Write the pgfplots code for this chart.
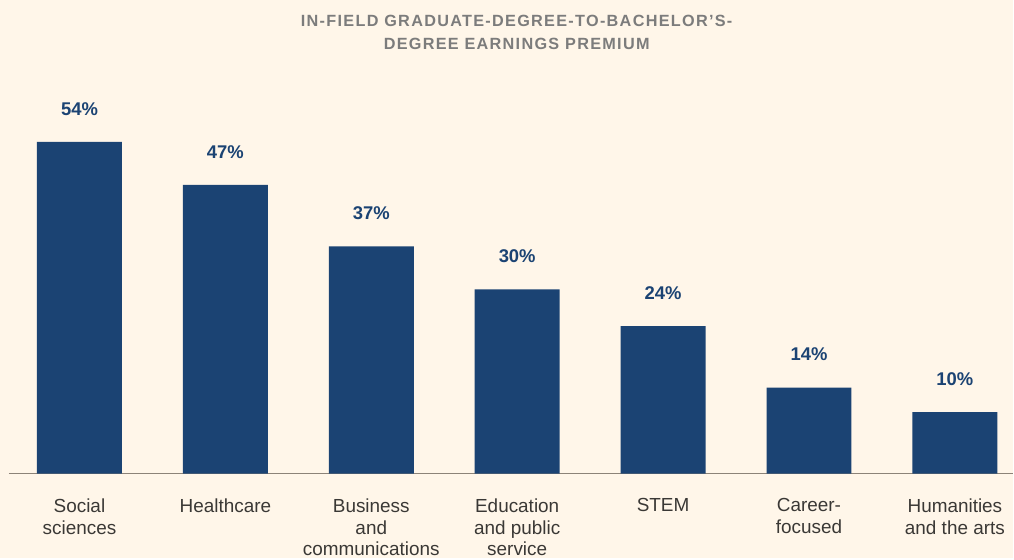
\documentclass[border=0pt]{standalone}
\usepackage{fontspec}
\setmainfont{Liberation Sans}
\newfontfamily\titlefont[LetterSpace=8]{Liberation Sans}
\usepackage{pgfplots}
\pgfplotsset{compat=1.18}
\definecolor{bg}{HTML}{FFF6E9}
\definecolor{barblue}{HTML}{1B4373}
\definecolor{labgray}{HTML}{3A3835}
\definecolor{titlegray}{HTML}{7C7C7C}
\definecolor{basegray}{HTML}{8C8378}
\begin{document}
\begin{tikzpicture}[x=1bp,y=1bp]
\fill[bg] (0,0) rectangle (1014,558);
\node[font=\titlefont\bfseries\fontsize{16.3}{23}\selectfont, text=titlegray, align=center, anchor=center] at (517,526) {IN-FIELD GRADUATE-DEGREE-TO-BACHELOR’S-\\DEGREE EARNINGS PREMIUM};
\begin{axis}[
  at={(9bp,84bp)}, anchor=south west,
  scale only axis, width=1005bp, height=400bp,
  xmin=-0.483, xmax=6.401, ymin=0, ymax=65.04,
  ybar, bar width=85bp,
  axis x line*=bottom, axis y line=none,
  x axis line style={basegray, line width=1.2pt, -},
  xtick=data, xtick style={draw=none},
  xticklabels={{Social\\sciences},{Healthcare},{Business\\and\\communications},{Education\\and public\\service},{STEM},{Career-\\focused},{Humanities\\and the arts}},
  xticklabel style={align=center, text=labgray, font=\fontsize{19}{22}\selectfont, anchor=north, yshift=-17bp},
  /pgf/number format/assume math mode=true,
  nodes near coords={\pgfmathprintnumber{\pgfplotspointmeta}\%},
  nodes near coords style={font=\bfseries\fontsize{18.5}{22}\selectfont, text=barblue, yshift=23bp},
  clip=false,
]
\addplot[fill=barblue, draw=none] coordinates {(0,54) (1,47) (2,37) (3,30) (4,24) (5,14) (6,10)};
\end{axis}
\end{tikzpicture}
\end{document}
